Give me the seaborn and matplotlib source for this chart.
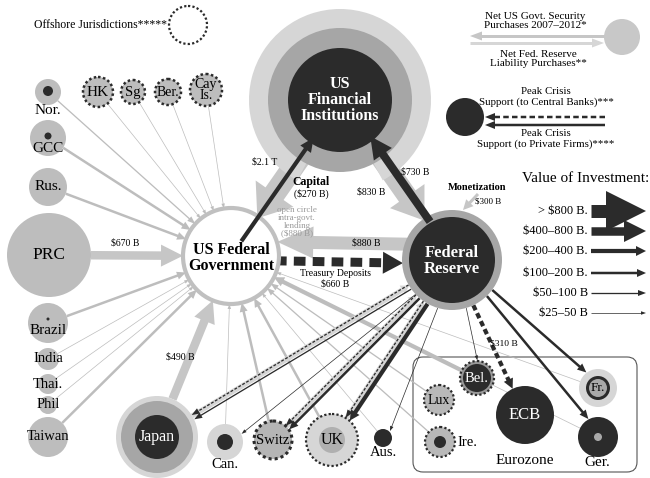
import numpy as np
import seaborn as sns
import matplotlib.pyplot as plt
from matplotlib.patches import Circle, Polygon, Wedge, FancyBboxPatch

# --- data -------------------------------------------------------------------
# buyers of US government securities (value in $B)
gov_buyers = ['Nor.', 'GCC', 'Rus.', 'HK', 'Sg', 'Ber', 'Cay', 'Brazil', 'India', 'Thai.',
              'Phil', 'Taiwan', 'PRC', 'Japan', 'Can.', 'Switz', 'UK', 'Aus.', 'Bel.',
              'Lux', 'Ire.', 'Fr.', 'Ger.']
gov_values = [60, 150, 150, 50, 30, 40, 40, 180, 30, 30, 25, 150, 670, 490, 30, 160, 150,
              25, 250, 60, 60, 50, 40]

# buyers of Fed liabilities
fed_buyers = ['Japan', 'Switz', 'UK']
fed_values = [300, 60, 150]

# peak crisis support from the Fed
support_targets = ['Japan', 'Can.', 'Switz', 'UK', 'Aus.', 'Bel.', 'Fr.', 'Ger.']
support_private = [60, 30, 150, 250, 30, 50, 150, 150]
swap_targets = ['Japan', 'Switz', 'UK', 'ECB']
swap_values = [80, 60, 60, 310]

# flows between the three core institutions ($B)
core_flows = [('FI', 'GOV', 2100), ('FI', 'FED', 830), ('FED', 'GOV', 880),
              ('GOV', 'FED', 660), ('GOV', 'FI', 270), ('FED', 'FI', 730)]
monetization = 300

legend_labels = ['> $800 B.', '$400\u2013800 B.', '$200\u2013400 B.', '$100\u2013200 B.',
                 '$50\u2013100 B', '$25\u201350 B']
legend_values = [900, 600, 300, 150, 75, 35]

# --- layout (pixels) ---------------------------------------------------------
pos = {
    'FI': (340, 100), 'GOV': (231, 256), 'FED': (452, 260),
    'PRC': (49, 255), 'Rus.': (48, 187), 'GCC': (48, 138), 'Nor.': (48, 92),
    'HK': (98, 92), 'Sg': (133, 92), 'Ber': (168, 92), 'Cay': (206, 90),
    'Brazil': (48, 323), 'India': (48, 359), 'Thai.': (48, 384), 'Phil': (48, 405),
    'Taiwan': (48, 437), 'Japan': (157, 437), 'Can.': (225, 442), 'Switz': (273, 440),
    'UK': (332, 440), 'Aus.': (383, 438), 'Bel.': (477, 378), 'Lux': (439, 400),
    'Ire.': (440, 442), 'ECB': (525, 415), 'Fr.': (598, 388), 'Ger.': (598, 437),
}
rad = {
    'FI': 74, 'GOV': 48, 'FED': 50, 'PRC': 42, 'Rus.': 19, 'GCC': 18, 'Nor.': 13,
    'HK': 15, 'Sg': 12, 'Ber': 13, 'Cay': 16, 'Brazil': 20, 'India': 11, 'Thai.': 10,
    'Phil': 9, 'Taiwan': 20, 'Japan': 41, 'Can.': 18, 'Switz': 19, 'UK': 26, 'Aus.': 9,
    'Bel.': 17, 'Lux': 15, 'Ire.': 15, 'ECB': 29, 'Fr.': 19, 'Ger.': 20,
}

DARK = '#2b2b2b'
GRAY = '#bdbdbd'
MID = '#a6a6a6'
LIGHT = '#d6d6d6'
FLOW = '#c6c6c6'
SERIF = 'Liberation Serif'

sns.set_style('white')
plt.rcParams['font.family'] = [SERIF, 'DejaVu Serif']

fig = plt.figure(figsize=(6.5, 4.78), dpi=100)
ax = fig.add_axes([0, 0, 1, 1])
ax.set_xlim(0, 650)
ax.set_ylim(478, 0)
ax.axis('off')


def arrow_size(v):
    # shaft width, head width, head length (pixels)
    if v > 1500:
        return 22, 46, 30
    if v > 800:
        return 13, 40, 40
    if v > 400:
        return 8.5, 22, 22
    if v > 200:
        return 4.2, 10, 10
    if v > 100:
        return 2.5, 8, 9
    if v > 50:
        return 1.3, 6, 8
    return 0.7, 3.5, 5


def arrow(p0, p1, v, color, r0=0, r1=0, off=0, dashed=False, z=3, size=None):
    x0, y0 = p0
    x1, y1 = p1
    d = np.hypot(x1 - x0, y1 - y0)
    ux, uy = (x1 - x0) / d, (y1 - y0) / d
    nx, ny = -uy, ux
    sx, sy = x0 + ux * r0 + nx * off, y0 + uy * r0 + ny * off
    ex, ey = x1 - ux * r1 + nx * off, y1 - uy * r1 + ny * off
    w, hw, hl = size if size else arrow_size(v)
    bx, by = ex - ux * hl, ey - uy * hl
    ls = (0, (1.3, 0.8)) if dashed else '-'
    if dashed and w < 3:
        ls = (0, (2.2, 1.3))
    ax.plot([sx, bx + ux], [sy, by + uy], color=color, lw=w * 0.72, ls=ls,
            solid_capstyle='butt', dash_capstyle='butt', zorder=z)
    ax.add_patch(Polygon([(ex, ey), (bx + nx * hw / 2, by + ny * hw / 2),
                          (bx - nx * hw / 2, by - ny * hw / 2)], closed=True,
                         color=color, lw=0, zorder=z))


def circ(c, r, fc, ec='none', lw=0, ls='-', z=5):
    ax.add_patch(Circle(c, r, facecolor=fc, edgecolor=ec, lw=lw, ls=ls, zorder=z))


def txt(x, y, s, size=11, color='black', z=8, **kw):
    ax.text(x, y, s, fontsize=size, color=color, ha=kw.pop('ha', 'center'),
            va=kw.pop('va', 'center'), zorder=z, **kw)


DOT = (0, (1, 1))

# --- flows to the government / the Fed --------------------------------------
for name, v in zip(gov_buyers, gov_values):
    col = GRAY if v < 400 else FLOW
    arrow(pos[name], pos['GOV'], v, col, r0=rad[name], r1=rad['GOV'], z=1)

for name, v in zip(fed_buyers, fed_values):
    arrow(pos[name], pos['FED'], v, LIGHT, r0=rad[name], r1=rad['FED'], z=1,
          size=(5, 10, 8))

for name, v in zip(support_targets, support_private):
    arrow(pos['FED'], pos[name], v, DARK, r0=rad['FED'], r1=rad[name], off=-4, z=2)
for name, v in zip(swap_targets, swap_values):
    off = 0 if name == 'ECB' else 1
    arrow(pos['FED'], pos[name], v, DARK, r0=rad['FED'], r1=rad[name], off=off,
          dashed=True, z=2)

# core triangle
core_geom = {
    ('FI', 'GOV'): dict(color=FLOW, r0=60, r1=46, off=0, z=2),
    ('FI', 'FED'): dict(color=FLOW, r0=60, r1=48, off=0, z=2, size=(20, 42, 30)),
    ('FED', 'GOV'): dict(color=FLOW, r0=45, r1=46, off=15, z=2, size=(13, 32, 36)),
    ('GOV', 'FED'): dict(color=DARK, r0=44, r1=49, off=4, z=4, dashed=True,
                         size=(9, 22, 20)),
    ('GOV', 'FI'): dict(color=DARK, r0=18, r1=46, off=0, z=6, size=(4.2, 13, 14)),
    ('FED', 'FI'): dict(color=DARK, r0=44, r1=47, off=4, z=6, size=(8, 22, 22)),
}
for a, b, v in core_flows:
    g = dict(core_geom[(a, b)])
    col = g.pop('color')
    arrow(pos[a], pos[b], v, col, **g)
fx, fy = pos['FED']
arrow((fx + 26, fy - 66), (fx + 11, fy - 50), monetization, FLOW, z=4, size=(3, 10, 10))

# --- nodes -------------------------------------------------------------------
# outer ring of the financial institutions, open at the bottom (y axis is inverted)
ax.add_patch(Wedge(pos['FI'], 91, 118, 422, width=20, facecolor=LIGHT, lw=0, zorder=4))
circ(pos['FI'], 72, MID)
circ(pos['FI'], 52, DARK, z=6)
txt(340, 100, 'US\nFinancial\nInstitutions', 11.5, 'white', weight='bold', linespacing=1.0)

circ(pos['GOV'], 48, 'white', ec='#c0c0c0', lw=3)
txt(231, 258, 'US Federal\nGovernment', 11.5, weight='bold', linespacing=1.0)

circ(pos['FED'], 50, MID)
circ(pos['FED'], 43, DARK, z=6)
txt(452, 261, 'Federal\nReserve', 12, 'white', weight='bold', linespacing=1.0)

for n in ['PRC', 'Rus.', 'GCC', 'Nor.', 'Brazil', 'India', 'Thai.', 'Phil', 'Taiwan']:
    circ(pos[n], rad[n], GRAY)
circ((48, 91), 5, DARK, z=6)
circ((48, 136), 3.5, DARK, z=6)
circ((48, 319), 1.5, DARK, z=6)
for n in ['HK', 'Sg', 'Ber', 'Cay']:
    circ(pos[n], rad[n], GRAY, ec=DARK, lw=1.8, ls=DOT)

txt(49, 255, 'PRC', 12.5)
txt(48, 187, 'Rus.', 11)
txt(48, 149, 'GCC', 11)
txt(48, 110, 'Nor.', 11)
txt(98, 92, 'HK', 11)
txt(133, 92, 'Sg', 10.5)
txt(168, 92, 'Ber.', 10)
txt(206, 90, 'Cay\nIs.', 10, linespacing=0.85)
txt(48, 330, 'Brazil', 11)
txt(48, 359, 'India', 10.5)
txt(48, 384, 'Thai.', 10.5)
txt(48, 405, 'Phil', 10.5)
txt(48, 437, 'Taiwan', 10.5)

circ(pos['Japan'], 41, LIGHT, z=4)
circ(pos['Japan'], 36, MID)
circ(pos['Japan'], 22, DARK, z=6)
txt(157, 437, 'Japan', 11.5, 'white')

circ(pos['Can.'], 18, LIGHT)
circ(pos['Can.'], 8, DARK, z=6)
txt(225, 464, 'Can.', 10.5)

circ(pos['Switz'], 19, '#b5b5b5', ec=DARK, lw=2.2, ls=DOT)
txt(273, 440, 'Switz', 10.5)

circ(pos['UK'], 26, LIGHT, ec=DARK, lw=1.6, ls=DOT)
circ(pos['UK'], 13, '#b0b0b0', z=6)
txt(332, 440, 'UK', 11.5)

circ(pos['Aus.'], 9, DARK)
txt(383, 453, 'Aus.', 10.5)

# eurozone box
ax.add_patch(FancyBboxPatch((413, 357), 224, 115, boxstyle='round,pad=0,rounding_size=10',
                            facecolor='none', edgecolor='#555555', lw=0.8, zorder=0))
txt(525, 461, 'Eurozone', 11)
circ(pos['Bel.'], 17, '#999999', ec=DARK, lw=1.6, ls=DOT)
circ(pos['Bel.'], 14, DARK, z=6)
txt(477, 378, 'Bel.', 10.5, 'white')
circ(pos['Lux'], 15, '#b8b8b8', ec=DARK, lw=1.6, ls=DOT)
txt(439, 400, 'Lux', 10)
circ(pos['Ire.'], 15, '#b8b8b8', ec=DARK, lw=1.6, ls=DOT)
circ(pos['Ire.'], 6, DARK, z=6)
txt(457, 442, 'Ire.', 10.5, ha='left')
circ(pos['ECB'], 29, DARK)
txt(525, 415, 'ECB', 12, 'white')
circ(pos['Fr.'], 19, LIGHT)
circ(pos['Fr.'], 12, DARK, z=6)
circ(pos['Fr.'], 9, '#a9a9a9', z=7)
txt(598, 388, 'Fr.', 9.5)
circ(pos['Ger.'], 20, DARK)
circ(pos['Ger.'], 4, '#a9a9a9', z=6)
txt(597, 463, 'Ger.', 11)

# --- flow annotations --------------------------------------------------------
txt(265, 162, '$2.1 T', 7)
txt(311, 182, 'Capital', 8.5, weight='bold')
txt(311, 194, '($270 B)', 7)
txt(297, 222, 'open circle\nintra-govt.\nlending\n($880 B)', 6.5, '#9a9a9a',
    linespacing=0.95)
txt(371, 192, '$830 B', 7)
txt(415, 172, '$730 B', 7)
txt(477, 188, 'Monetization', 7.5, weight='bold')
txt(488, 202, '$300 B', 6.5)
txt(366, 243, '$880 B', 7)
txt(335, 274, 'Treasury Deposits', 7, z=9)
txt(335, 284, '$660 B', 7)
txt(125, 243, '$670 B', 7)
txt(180, 357, '$490 B', 7)
txt(504, 344, '$310 B', 6.8)

# --- legend ------------------------------------------------------------------
txt(100, 25, 'Offshore Jurisdictions*****', 8.5)
circ((188, 25), 19, 'white', ec=DARK, lw=1.6, ls=DOT)

circ((622, 37), 18, '#c8c8c8')
arrow((606, 36), (470, 36), 0, FLOW, size=(3, 9, 12))
arrow((470, 43), (604, 43), 0, LIGHT, size=(3, 9, 12))
txt(535, 21, 'Net US Govt. Security\nPurchases 2007\u20132012*', 8, linespacing=1.1)
txt(538, 59, 'Net Fed. Reserve\nLiability Purchases**', 8, linespacing=1.1)

circ((465, 117), 19, DARK)
arrow((605, 117), (485, 117), 0, DARK, dashed=True, size=(2.5, 8, 10))
arrow((605, 125), (485, 125), 0, DARK, size=(2.5, 8, 10))
txt(546, 97, 'Peak Crisis\nSupport (to Central Banks)***', 7.8, linespacing=1.1)
txt(546, 139, 'Peak Crisis\nSupport (to Private Firms)****', 7.8, linespacing=1.1)

txt(586, 178, 'Value of Investment:', 11)
ys = [211, 231, 251, 273, 293, 313]
for lab, v, y in zip(legend_labels, legend_values, ys):
    txt(588, y, lab, 9, ha='right')
    arrow((591, y), (646, y), v, DARK)

fig.savefig('out.png', dpi=100, facecolor='white')
